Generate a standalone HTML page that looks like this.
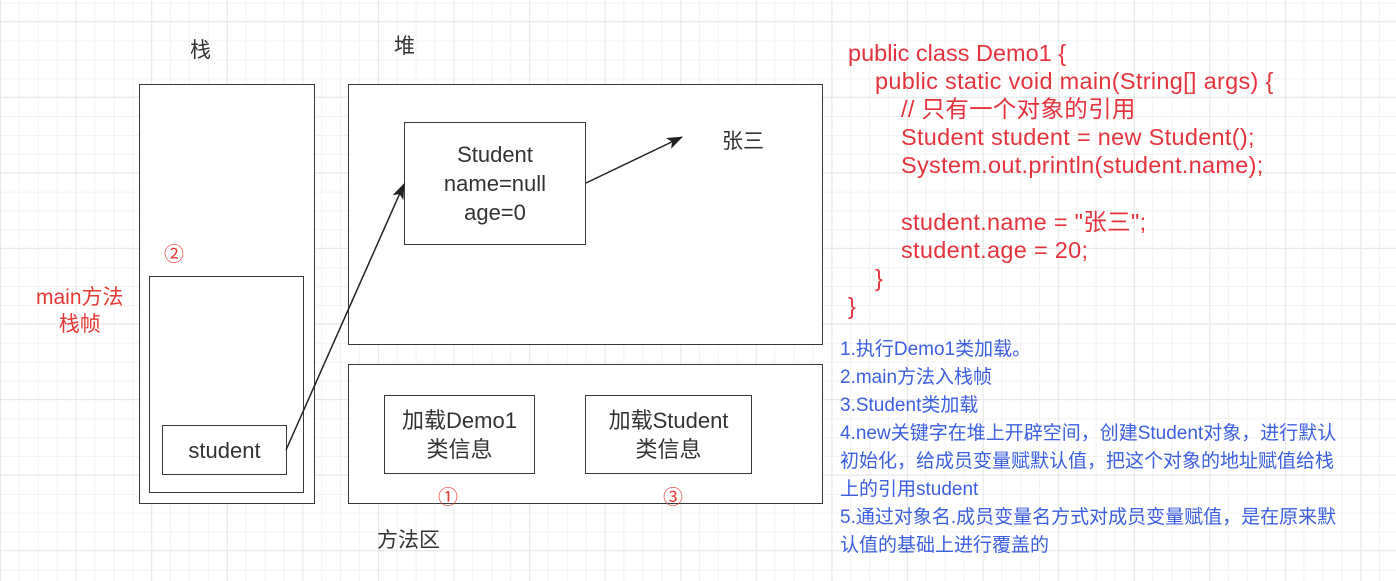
<!DOCTYPE html>
<html><head><meta charset="utf-8"><style>
body{margin:0;width:1396px;height:581px;overflow:hidden;position:relative;
background-color:#fff;
background-image:
linear-gradient(to right,#e8e8e8 1px,transparent 1px),
linear-gradient(to bottom,#e8e8e8 1px,transparent 1px),
linear-gradient(to right,#f2f2f2 1px,transparent 1px),
linear-gradient(to bottom,#f2f2f2 1px,transparent 1px);
background-size:75.6px 75.6px,75.6px 75.6px,18.9px 18.9px,18.9px 18.9px;
background-position:0 21px,0 21px,0 2.7px,0 2.7px;
font-family:"Liberation Sans","Noto Sans CJK SC",sans-serif;}
.b{position:absolute;border:1.5px solid #36393d;background:#fff;box-sizing:border-box;}
.t{position:absolute;white-space:nowrap;color:#333;}
.c{display:flex;align-items:center;justify-content:center;text-align:center;font-size:22px;color:#333;line-height:29px;}
.r{color:#e53935;}
.code{position:absolute;left:848px;top:39px;font-size:23.5px;line-height:28.1px;color:#e5333e;white-space:nowrap;}
.code div{height:28.1px}
.i1{padding-left:27px;letter-spacing:0.3px}.i2{padding-left:53px;letter-spacing:0.3px}
.blue{position:absolute;left:840px;top:336px;font-size:19px;line-height:28px;color:#3d5fe0;white-space:nowrap;}
</style></head><body>
<div class="t" style="left:190px;top:34px;font-size:21px">栈</div>
<div class="t" style="left:394px;top:30px;font-size:21px">堆</div>
<div class="b" style="left:139px;top:84px;width:176px;height:420px"></div>
<div class="b" style="left:348px;top:84px;width:475px;height:261px"></div>
<div class="b" style="left:348px;top:364px;width:475px;height:140px"></div>
<div class="b" style="left:149px;top:276px;width:155px;height:217px"></div>
<div class="b c" style="left:162px;top:425px;width:125px;height:50px">student</div>
<div class="b c" style="left:404px;top:122px;width:182px;height:123px">Student<br>name=null<br>age=0</div>
<div class="b c" style="left:384px;top:395px;width:151px;height:79px">加载Demo1<br>类信息</div>
<div class="b c" style="left:585px;top:395px;width:167px;height:79px">加载Student<br>类信息</div>
<div class="t r" style="left:164px;top:238px;font-size:20px">②</div>
<div class="t r" style="left:438px;top:481px;font-size:20px">①</div>
<div class="t r" style="left:663px;top:481px;font-size:20px">③</div>
<div class="t r" style="left:36px;top:284px;font-size:21px;text-align:center;line-height:27px">main方法<br>栈帧</div>
<div class="t" style="left:722px;top:125px;font-size:21px">张三</div>
<div class="t" style="left:377px;top:524px;font-size:21px">方法区</div>
<svg style="position:absolute;left:0;top:0" width="1396" height="581">
<defs><marker id="a" markerWidth="16" markerHeight="12" refX="15" refY="6" orient="auto" markerUnits="userSpaceOnUse"><path d="M0,0 L16,6 L0,12 L4,6z" fill="#222"/></marker></defs>
<line x1="286" y1="450" x2="404" y2="184" stroke="#222" stroke-width="1.5" marker-end="url(#a)"/>
<line x1="586" y1="183" x2="682" y2="137" stroke="#222" stroke-width="1.5" marker-end="url(#a)"/>
</svg>
<div class="code">
<div>public class Demo1 {</div>
<div class="i1">public static void main(String[] args) {</div>
<div class="i2">// 只有一个对象的引用</div>
<div class="i2">Student student = new Student();</div>
<div class="i2">System.out.println(student.name);</div>
<div></div>
<div class="i2">student.name = "张三";</div>
<div class="i2">student.age = 20;</div>
<div class="i1">}</div>
<div>}</div>
</div>
<div class="blue">1.执行Demo1类加载。<br>2.main方法入栈帧<br>3.Student类加载<br>4.new关键字在堆上开辟空间，创建Student对象，进行默认<br>初始化，给成员变量赋默认值，把这个对象的地址赋值给栈<br>上的引用student<br>5.通过对象名.成员变量名方式对成员变量赋值，是在原来默<br>认值的基础上进行覆盖的</div>
</body></html>
